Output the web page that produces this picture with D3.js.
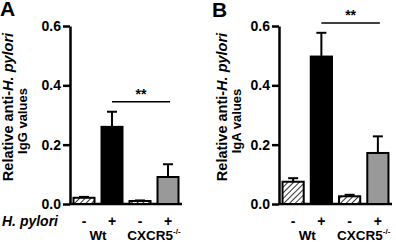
<!DOCTYPE html>
<html>
<head>
<meta charset="utf-8">
<script src="https://cdn.jsdelivr.net/npm/d3@7"></script>
<style>
  body { margin: 0; background: #fff; }
  svg text { font-family: "Liberation Sans", Arial, sans-serif; font-weight: bold; fill: #000; }
</style>
</head>
<body>
<div id="chart-area"></div>
<script>
const groups = ["Wt-", "Wt+", "KO-", "KO+"];
const hpSigns = ["-", "+", "-", "+"];
const iggMean = [0.021, 0.26, 0.01, 0.091];
const iggErr = [0.003, 0.051, 0.002, 0.043];
const igaMean = [0.075, 0.497, 0.026, 0.172];
const igaErr = [0.012, 0.08, 0.005, 0.056];
const yTicks = [0, 0.2, 0.4, 0.6];
const fills = ["url(#hatch)", "#000", "url(#hatch)", "#999"];

const svg = d3.select("#chart-area").append("svg")
    .attr("width", 396).attr("height", 242);

const pat = svg.append("defs").append("pattern")
    .attr("id", "hatch")
    .attr("patternUnits", "userSpaceOnUse")
    .attr("width", 4).attr("height", 4)
    .attr("patternTransform", "rotate(45)");
pat.append("rect").attr("width", 4).attr("height", 4).attr("fill", "#fff");
pat.append("line").attr("x1", 0).attr("y1", 0).attr("x2", 0).attr("y2", 4)
    .attr("stroke", "#000").attr("stroke-width", 1.6);

const y = d3.scaleLinear().domain([0, 0.6]).range([204, 26]);

const drawPanel = function(opt) {
    const g = svg.append("g");
    const x = d3.scaleBand().domain(groups)
        .range([opt.left, opt.right])
        .paddingInner(0.25).paddingOuter(0.125);

    g.append("text").attr("x", opt.letterX).attr("y", opt.letterY)
        .style("font-size", "21px").text(opt.letter);

    // y axis
    const yAxis = d3.axisLeft(y).tickValues(yTicks)
        .tickFormat(d3.format(".1f")).tickSize(7).tickSizeOuter(0);
    const ya = g.append("g").attr("transform", `translate(${opt.left},0)`).call(yAxis);
    ya.select(".domain").attr("stroke-width", 2.5);
    ya.selectAll(".tick line").attr("stroke-width", 2.5);
    ya.selectAll(".tick text").style("font-size", "14px").attr("x", -9);

    // x axis baseline
    g.append("line")
        .attr("x1", opt.left - 1).attr("x2", opt.right)
        .attr("y1", y(0)).attr("y2", y(0))
        .attr("stroke", "#000").attr("stroke-width", 2.5);

    // y title
    g.append("text")
        .attr("transform", `translate(${opt.t1x},${opt.t1y}) rotate(-90)`)
        .attr("text-anchor", "middle").style("font-size", "14.5px")
        .html(`Relative anti-<tspan font-style="italic">H. pylori</tspan>`);
    g.append("text")
        .attr("transform", `translate(${opt.t1x + 14},${opt.t1y + 14}) rotate(-90)`)
        .attr("text-anchor", "middle").style("font-size", "13px")
        .text(opt.title2);

    // bars
    g.selectAll(".bar").data(opt.mean).join("rect")
        .attr("x", (d, i) => x(groups[i]))
        .attr("width", x.bandwidth())
        .attr("y", d => y(d))
        .attr("height", d => y(0) - y(d))
        .attr("fill", (d, i) => fills[i])
        .attr("stroke", "#000").attr("stroke-width", 2);

    // error bars
    const eb = g.selectAll(".err").data(opt.mean).join("g");
    eb.append("line")
        .attr("x1", (d, i) => x(groups[i]) + x.bandwidth() / 2)
        .attr("x2", (d, i) => x(groups[i]) + x.bandwidth() / 2)
        .attr("y1", d => y(d))
        .attr("y2", (d, i) => y(d + opt.err[i]))
        .attr("stroke", "#000").attr("stroke-width", 2);
    eb.append("line")
        .attr("x1", (d, i) => x(groups[i]) + x.bandwidth() / 2 - 5)
        .attr("x2", (d, i) => x(groups[i]) + x.bandwidth() / 2 + 5)
        .attr("y1", (d, i) => y(d + opt.err[i]))
        .attr("y2", (d, i) => y(d + opt.err[i]))
        .attr("stroke", "#000").attr("stroke-width", 2);

    // significance
    const sx1 = x(groups[1]) + x.bandwidth() / 2;
    const sx2 = x(groups[3]) + x.bandwidth() / 2 + 2;
    g.append("line").attr("x1", sx1).attr("x2", sx2)
        .attr("y1", y(opt.sigY)).attr("y2", y(opt.sigY))
        .attr("stroke", "#000").attr("stroke-width", 1.5);
    g.append("text").attr("x", (sx1 + sx2) / 2).attr("y", y(opt.sigY) - 3)
        .attr("text-anchor", "middle").style("font-size", "14px").text("**");

    // x labels
    g.selectAll(".sign").data(hpSigns).join("text")
        .attr("x", (d, i) => x(groups[i]) + x.bandwidth() / 2)
        .attr("y", 226)
        .attr("text-anchor", "middle").style("font-size", "14px")
        .text(d => d);
    g.append("text")
        .attr("x", (x(groups[0]) + x(groups[1]) + x.bandwidth()) / 2)
        .attr("y", 240).attr("text-anchor", "middle").style("font-size", "13.5px")
        .text("Wt");
    const ko = g.append("text")
        .attr("x", (x(groups[2]) + x(groups[3]) + x.bandwidth()) / 2)
        .attr("y", 240).attr("text-anchor", "middle").style("font-size", "13.5px");
    ko.append("tspan").text("CXCR5");
    ko.append("tspan").attr("dy", -6).style("font-size", "8px").text("-/-");
    return g;
};

drawPanel({
    letter: "A", letterX: 0, letterY: 16,
    left: 70, right: 182,
    t1x: 13, t1y: 107, title2: "IgG values",
    mean: iggMean, err: iggErr, sigY: 0.345
});

drawPanel({
    letter: "B", letterX: 212, letterY: 17,
    left: 279, right: 392,
    t1x: 227, t1y: 107, title2: "IgA values",
    mean: igaMean, err: igaErr, sigY: 0.61
});

svg.append("text").attr("x", 2).attr("y", 226)
    .style("font-size", "14px").style("font-style", "italic").text("H. pylori");
</script>
</body>
</html>
